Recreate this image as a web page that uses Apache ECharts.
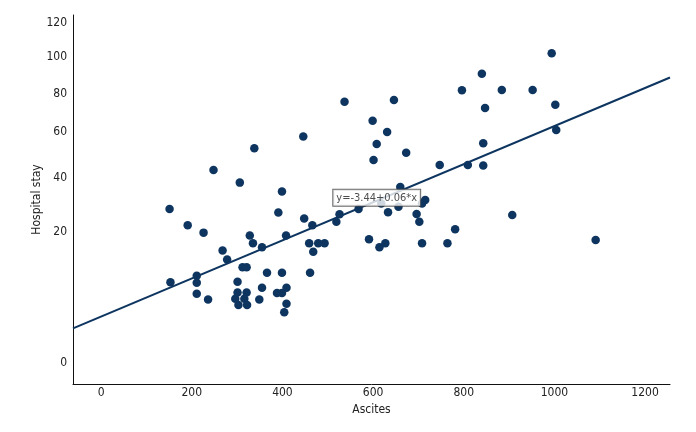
<!DOCTYPE html>
<html>
<head>
<meta charset="utf-8">
<script src="https://cdn.jsdelivr.net/npm/echarts@6/dist/echarts.min.js"></script>
<style>html,body{margin:0;padding:0;background:#fff}#c{width:696px;height:432px}</style>
</head>
<body>
<div id="c"></div>
<script>
// ---- data ----
const ascites = [151,248,306,399,391,191,226,448,466,328,335,408,355,268,278,459,479,493,468,312,321,366,399,461,153,211,211,301,355,409,211,236,301,321,296,316,303,322,349,388,399,409,404,446,338,537,599,608,601,631,646,673,747,526,519,568,618,633,656,660,715,708,696,702,591,614,627,708,764,781,809,843,907,994,840,796,884,952,847,1002,1004,843,1091];
const hospitalStay = [28.6,43.6,38.4,35.1,27.3,22.6,19.9,25.1,22.6,19.0,16.8,19.0,15.7,14.8,12.5,16.8,16.8,16.8,14.5,10.7,10.7,9.5,9.5,9.5,7.6,8.9,7.5,7.7,6.6,6.6,5.6,4.7,5.8,5.8,4.8,4.8,3.9,3.9,4.7,5.7,5.7,4.1,3.0,57.9,52.9,75.9,65.8,54.7,47.9,59.9,76.8,51.0,45.7,26.7,23.9,28.6,30.7,27.4,29.5,36.8,32.0,30.7,26.8,23.9,17.9,15.7,16.8,16.8,16.8,21.1,45.7,45.5,26.4,102.4,91.1,82.0,82.2,82.2,72.6,74.3,60.9,55.0,17.7];
const fitX = [-62, 1255];
const fitY = [1.39, 89.0];
const fitText = 'y=-3.44+0.06*x';
const fitLabelAt = [608, 32.8];
const xTicks = [0,200,400,600,800,1000,1200];
const yTicks = [0,20,40,60,80,100,120];
// non-linear y-axis scale (axis units for each tick)
const yTickUnits = [0,130.4,184.4,231,268.7,305.4,339.4];

function yT(v){
  if (v <= yTicks[1]) return yTickUnits[1]*Math.sqrt(Math.max(v,0)/yTicks[1]);
  let i = 1;
  while (i < yTicks.length-2 && v > yTicks[i+1]) i++;
  const t = (v - yTicks[i])/(yTicks[i+1]-yTicks[i]);
  return yTickUnits[i] + t*(yTickUnits[i+1]-yTickUnits[i]);
}

const pts = ascites.map((x,i)=>[x, yT(hospitalStay[i])]);
const fitLine = fitX.map((x,i)=>[x, yT(fitY[i])]);
const font = "'Liberation Sans Narrow','DejaVu Sans Condensed','Roboto',sans-serif";
const navy = '#0d3560';

const chart = echarts.init(document.getElementById('c'), null, {renderer:'canvas'});
chart.setOption({
  animation:false,
  backgroundColor:'#fff',
  grid:{left:73,right:26,top:15,bottom:48,containLabel:false},
  xAxis:{
    type:'value', min:-62, max:1255,
    name:'Ascites', nameLocation:'middle', nameGap:20,
    nameTextStyle:{fontFamily:font,fontSize:12,color:'#222'},
    axisLine:{show:true,onZero:false,lineStyle:{color:'#111',width:1}},
    axisTick:{show:false},
    splitLine:{show:false},
    axisLabel:{customValues:xTicks,margin:3,fontFamily:font,fontSize:12,color:'#222',
      formatter:function(v){return String(Math.round(v));}}
  },
  yAxis:{
    type:'value', min:-21.3, max:347.7,
    name:'Hospital stay', nameLocation:'middle', nameGap:30, nameMoveOverlap:false,
    nameTextStyle:{fontFamily:font,fontSize:12,color:'#222'},
    axisLine:{show:true,onZero:false,lineStyle:{color:'#111',width:1}},
    axisTick:{show:false},
    splitLine:{show:false},
    axisLabel:{
      customValues:yTicks.map(yT), margin:6, fontFamily:font,fontSize:12,color:'#222',
      formatter:function(val){
        let best=0,bd=1e9;
        yTicks.forEach((t,i)=>{const d=Math.abs(yT(t)-val); if(d<bd){bd=d;best=t;}});
        return String(best);
      }
    }
  },
  series:[
    {type:'scatter', data:pts, symbolSize:8.5, itemStyle:{color:navy,opacity:1}, z:2},
    {type:'line', data:fitLine, showSymbol:false, lineStyle:{color:navy,width:2}, z:3},
    {type:'scatter', data:[[fitLabelAt[0], yT(fitLabelAt[1])]], symbolSize:0, z:4,
      label:{show:true, position:'inside', formatter:fitText, fontFamily:font, fontSize:11, color:'#222',
        backgroundColor:'#fff', borderColor:'#444', borderWidth:1, padding:[3,3,2,3]}}
  ]
});
</script>
</body>
</html>
